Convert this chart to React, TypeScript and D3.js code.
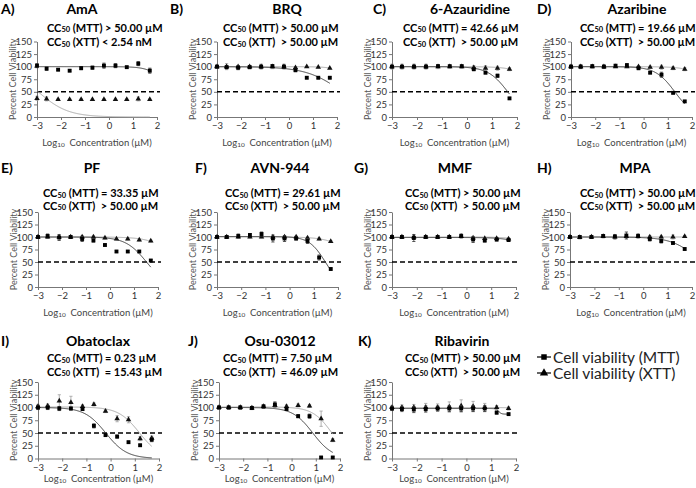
import React, { useEffect, useRef } from 'react';
import * as d3 from 'd3';

// log10 concentration (µM) of the 11 tested doses
const logConc = [-3.0, -2.6, -2.12, -1.64, -1.16, -0.69, -0.21, 0.27, 0.74, 1.22, 1.7];

const drugNames = ['AmA', 'BRQ', '6-Azauridine', 'Azaribine', 'PF', 'AVN-944', 'MMF', 'MPA', 'Obatoclax', 'Osu-03012', 'Ribavirin'];
const panelLetters = ['A)', 'B)', 'C)', 'D)', 'E)', 'F)', 'G)', 'H)', 'I)', 'J)', 'K)'];

const cc50MttText = ['> 50.00 µM', '> 50.00 µM', '= 42.66 µM', '= 19.66 µM', '= 33.35 µM', '= 29.61 µM', '> 50.00 µM', '> 50.00 µM', '= 0.23 µM', '= 7.50 µM', '> 50.00 µM'];
const cc50XttText = ['< 2.54 nM', ' > 50.00 µM', ' > 50.00 µM', ' > 50.00 µM', ' > 50.00 µM', ' > 50.00 µM', ' > 50.00 µM', ' > 50.00 µM', ' = 15.43 µM', ' = 46.09 µM', ' > 50.00 µM'];

const yTicks = [0, 25, 50, 75, 100, 125, 150];
const xTicks = [-3, -2, -1, 0, 1, 2];
const cutoff = 50;

const legendLabels = ['Cell viability (MTT)', 'Cell viability (XTT)'];

// percent viability, one row per panel (A..K)
const mttViability = [
  [102, 96, 94, 92, 97, 98, 102, 102, 99, 106, 92],
  [100, 99, 98, 99, 100, 101, 100, 93, 78, 78, 78],
  [100, 100, 100, 100, 101, 101, 101, 95, 88, 82, 37],
  [100, 100, 101, 100, 102, 103, 97, 88, 84, 48, 31],
  [100, 102, 99, 100, 96, 93, 84, 71, 71, 71, 53],
  [100, 100, 102, 104, 106, 97, 97, 97, 92, 59, 36],
  [100, 100, 98, 100, 100, 100, 102, 95, 93, 95, 94],
  [100, 100, 100, 102, 101, 103, 102, 96, 92, 88, 76],
  [100, 100, 98, 98, 97, 64, 46, 43, 32, 26, 37],
  [100, 100, 100, 99, 102, 106, 97, 83, 83, 2, 2],
  [98, 97, 96, 97, 98, 98, 98, 98, 98, 90, 87],
];
const mttError = [
  [4, 3, 2, 2, 3, 3, 5, 4, 2, 4, 5],
  [3, 3, 4, 3, 3, 3, 3, 3, 2, 2, 2],
  [2, 2, 3, 3, 2, 1, 2, 3, 2, 3, 2],
  [3, 3, 2, 3, 2, 3, 3, 2, 5, 2, 2],
  [3, 4, 6, 3, 5, 3, 2, 2, 2, 2, 2],
  [2, 3, 4, 3, 4, 7, 6, 3, 5, 5, 2],
  [3, 3, 7, 2, 3, 3, 4, 6, 3, 3, 3],
  [3, 3, 3, 3, 3, 7, 4, 4, 4, 2, 2],
  [4, 4, 4, 3, 3, 4, 3, 3, 2, 2, 4],
  [3, 3, 3, 3, 3, 5, 3, 3, 4, 2, 2],
  [4, 5, 6, 6, 5, 6, 6, 6, 6, 3, 2],
];
const xttViability = [
  [37, 36, 35, 35, 35, 35, 35, 35, 35, 36, 35],
  [100, 100, 100, 100, 100, 100, 100, 98, 100, 99, 97],
  [100, 100, 100, 100, 100, 100, 100, 98, 97, 97, 95],
  [100, 100, 100, 100, 100, 100, 100, 99, 99, 97, 95],
  [100, 100, 100, 100, 100, 100, 98, 96, 96, 94, 92],
  [100, 100, 100, 100, 100, 100, 100, 100, 98, 96, 91],
  [100, 100, 100, 100, 100, 100, 101, 98, 97, 97, 96],
  [100, 99, 100, 101, 100, 101, 101, 100, 100, 100, 101],
  [102, 103, 113, 110, 102, 106, 93, 78, 76, 39, 40],
  [100, 100, 100, 99, 102, 104, 102, 104, 103, 78, 36],
  [100, 100, 100, 100, 100, 101, 103, 102, 100, 100, 98],
];
const xttError = [
  [4, 4, 1, 1, 1, 1, 1, 1, 1, 4, 1],
  [2, 6, 2, 2, 5, 4, 5, 2, 1, 1, 1],
  [5, 5, 5, 5, 4, 3, 3, 4, 5, 4, 3],
  [3, 4, 3, 3, 2, 2, 2, 2, 4, 3, 3],
  [2, 3, 2, 2, 3, 2, 2, 2, 2, 2, 2],
  [2, 2, 2, 2, 2, 2, 2, 2, 2, 2, 2],
  [3, 3, 3, 2, 2, 2, 2, 2, 2, 2, 2],
  [3, 3, 3, 3, 5, 3, 2, 3, 2, 4, 2],
  [4, 4, 12, 12, 3, 3, 3, 6, 6, 4, 4],
  [3, 3, 3, 3, 3, 3, 3, 3, 3, 15, 3],
  [4, 5, 6, 8, 7, 10, 12, 10, 8, 4, 3],
];

// fitted dose-response curves: [top, bottom, logCC50, hill]
const mttFit = [
  [100, 0, 2.5, 1.3],
  [100, 0, 2.23, 0.58],
  [100, 0, 1.63, 1.1],
  [100, 0, 1.29, 1.1],
  [100, 0, 1.52, 1.0],
  [101, 0, 1.47, 1.3],
  [99, 0, 3.0, 1.0],
  [100, 0, 2.36, 0.79],
  [100, 0, -0.2, 1.0],
  [100, 0, 0.875, 1.05],
  [98, 87, 1.3, 8],
];
const xttFit = [
  [100, 0, -2.95, 0.7],
  [100, 0, 3.0, 1.2],
  [100, 0, 3.0, 1.0],
  [100, 0, 3.0, 1.0],
  [100, 0, 2.9, 0.85],
  [100, 0, 2.8, 0.9],
  [100, 0, 3.3, 1.0],
  [100, 0, 6, 1],
  [101, 0, 1.19, 1.0],
  [101, 0, 1.66, 1.1],
  [100, 0, 4, 1],
];

const rowLayout = [
  { top: 41.5, bottom: 117, title: 8, cc1: 26.5, cc2: 41, xlab: 141.5 },
  { top: 212, bottom: 287, title: 167, cc1: 192, cc2: 204.5, xlab: 311.5 },
  { top: 382, bottom: 458.5, title: 340, cc1: 357, cc2: 370.5, xlab: 477.5 },
];

const panelLayout = [
  { row: 0, left: 37, right: 157, letterX: 1, titleX: 82, ccX: 47 },
  { row: 0, left: 217, right: 337, letterX: 170, titleX: 287, ccX: 223 },
  { row: 0, left: 392, right: 517, letterX: 373, titleX: 470, ccX: 403 },
  { row: 0, left: 571, right: 692, letterX: 537, titleX: 637, ccX: 580 },
  { row: 1, left: 38, right: 158, letterX: 1, titleX: 92, ccX: 43 },
  { row: 1, left: 217, right: 338, letterX: 195, titleX: 280, ccX: 225 },
  { row: 1, left: 392, right: 516, letterX: 354, titleX: 455, ccX: 405 },
  { row: 1, left: 570, right: 692, letterX: 537, titleX: 635, ccX: 580 },
  { row: 2, left: 38, right: 159, letterX: 1, titleX: 98, ccX: 47 },
  { row: 2, left: 219, right: 340, letterX: 188, titleX: 280, ccX: 223 },
  { row: 2, left: 392, right: 516, letterX: 358, titleX: 462, ccX: 405 },
];

const FONT = "Lato, 'Open Sans', sans-serif";

const App = () => {
  const ref = useRef<SVGSVGElement | null>(null);

  useEffect(() => {
    const svg = d3.select(ref.current);
    svg.selectAll('*').remove();

    const sq = d3.symbol().type(d3.symbolSquare).size(15)();
    const tri = d3.symbol().type(d3.symbolTriangle).size(13)();

    panelLayout.forEach((p, i) => {
      const row = rowLayout[p.row];
      const x = d3.scaleLinear().domain([-3, 2]).range([p.left, p.right]);
      const y = d3.scaleLinear().domain([0, 150]).range([row.bottom, row.top]);
      const g = svg.append('g');

      g.append('text')
        .attr('x', p.letterX).attr('y', row.title)
        .attr('dominant-baseline', 'central')
        .attr('font-size', 14).attr('font-weight', 700)
        .text(panelLetters[i]);

      g.append('text')
        .attr('x', p.titleX).attr('y', row.title)
        .attr('text-anchor', 'middle').attr('dominant-baseline', 'central')
        .attr('font-size', 14).attr('font-weight', 700)
        .text(drugNames[i]);

      const ccLine = (yy: number, assay: string, val: string) => {
        const t = g.append('text')
          .attr('x', p.ccX).attr('y', yy)
          .attr('dominant-baseline', 'central')
          .attr('font-size', 11).attr('font-weight', 700)
          .style('white-space', 'pre');
        t.append('tspan').text('CC');
        t.append('tspan').attr('font-size', 7.5).attr('dy', 2.5).text('50');
        t.append('tspan').attr('dy', -2.5).text(` (${assay}) ${val}`);
      };
      ccLine(row.cc1, 'MTT', cc50MttText[i]);
      ccLine(row.cc2, 'XTT', cc50XttText[i]);

      // axes
      const yAxis = g.append('g')
        .attr('transform', `translate(${p.left},0)`)
        .call(d3.axisLeft(y).tickValues(yTicks).tickSize(3).tickSizeOuter(0).tickPadding(2));
      const xAxis = g.append('g')
        .attr('transform', `translate(0,${row.bottom})`)
        .call(d3.axisBottom(x).tickValues(xTicks).tickFormat(d3.format('d')).tickSize(3).tickSizeOuter(0).tickPadding(2.5));
      [yAxis, xAxis].forEach(a => {
        a.attr('font-family', null).attr('font-size', 9.5);
        a.select('.domain').attr('stroke', '#777');
        a.selectAll('.tick line').attr('stroke', '#777');
        a.selectAll('.tick text').attr('fill', '#333');
      });

      g.append('text')
        .attr('transform', `translate(${p.left - 25},${(row.top + row.bottom) / 2}) rotate(-90)`)
        .attr('text-anchor', 'middle').attr('dominant-baseline', 'central')
        .attr('font-size', 9).attr('fill', '#555')
        .text('Percent Cell Viability');

      const xl = g.append('text')
        .attr('x', (p.left + p.right) / 2).attr('y', row.xlab)
        .attr('text-anchor', 'middle').attr('dominant-baseline', 'central')
        .attr('font-size', 9.5).attr('fill', '#444')
        .style('white-space', 'pre');
      xl.append('tspan').text('Log');
      xl.append('tspan').attr('font-size', 6.5).attr('dy', 2.5).text('10');
      xl.append('tspan').attr('dy', -2.5).text('  Concentration (µM)');

      // 50% line
      g.append('line')
        .attr('x1', p.left).attr('x2', p.right + 3)
        .attr('y1', y(cutoff)).attr('y2', y(cutoff))
        .attr('stroke', '#000').attr('stroke-width', 1.5).attr('stroke-dasharray', '5,3');

      // fitted curves
      const xs = d3.range(-3, 1.701, 0.02);
      const drawFit = (prm: number[], color: string) => {
        const f = (c: number) => prm[1] + (prm[0] - prm[1]) / (1 + Math.pow(10, (c - prm[2]) * prm[3]));
        const line = d3.line<number>().x(c => x(c)).y(c => y(f(c)));
        g.append('path').attr('d', line(xs)).attr('fill', 'none').attr('stroke', color).attr('stroke-width', 1);
      };
      drawFit(xttFit[i], '#a8a8a8');
      drawFit(mttFit[i], '#3a3a3a');

      const drawSeries = (vals: number[], errs: number[], barColor: string, shape: string | null, fill: string) => {
        const pts = g.append('g');
        vals.forEach((v, k) => {
          const cx = x(logConc[k]);
          const e = errs[k];
          pts.append('line').attr('x1', cx).attr('x2', cx).attr('y1', y(v - e)).attr('y2', y(v + e)).attr('stroke', barColor).attr('stroke-width', 0.8);
          [v - e, v + e].forEach(yy => {
            pts.append('line').attr('x1', cx - 1.6).attr('x2', cx + 1.6).attr('y1', y(yy)).attr('y2', y(yy)).attr('stroke', barColor).attr('stroke-width', 0.8);
          });
        });
        pts.selectAll('path.pt')
          .data(vals)
          .join('path')
          .attr('class', 'pt')
          .attr('transform', (v, k) => `translate(${x(logConc[k])},${y(v)})`)
          .attr('d', shape)
          .attr('fill', fill);
      };
      drawSeries(xttViability[i], xttError[i], '#a0a0a0', tri, '#111');
      drawSeries(mttViability[i], mttError[i], '#333', sq, '#000');
    });

    // legend
    const lg = svg.append('g');
    const legendY = d3.scalePoint<string>().domain(legendLabels).range([357, 373]);
    const shapes = [d3.symbol().type(d3.symbolSquare).size(30)(), d3.symbol().type(d3.symbolTriangle).size(30)()];
    legendLabels.forEach((lab, k) => {
      const yy = legendY(lab)!;
      lg.append('line').attr('x1', 537).attr('x2', 551).attr('y1', yy).attr('y2', yy).attr('stroke', '#000').attr('stroke-width', 1.2);
      lg.append('path').attr('d', shapes[k]).attr('transform', `translate(544,${yy})`).attr('fill', '#000');
      lg.append('text').attr('x', 553).attr('y', yy).attr('dominant-baseline', 'central')
        .attr('font-size', 15.5).attr('fill', '#222').text(lab);
    });
  }, []);

  return (
    <svg ref={ref} width={696} height={488} fontFamily={FONT}
      style={{ position: 'absolute', left: 0, top: 0, background: '#fff' }} />
  );
};

export default App;
